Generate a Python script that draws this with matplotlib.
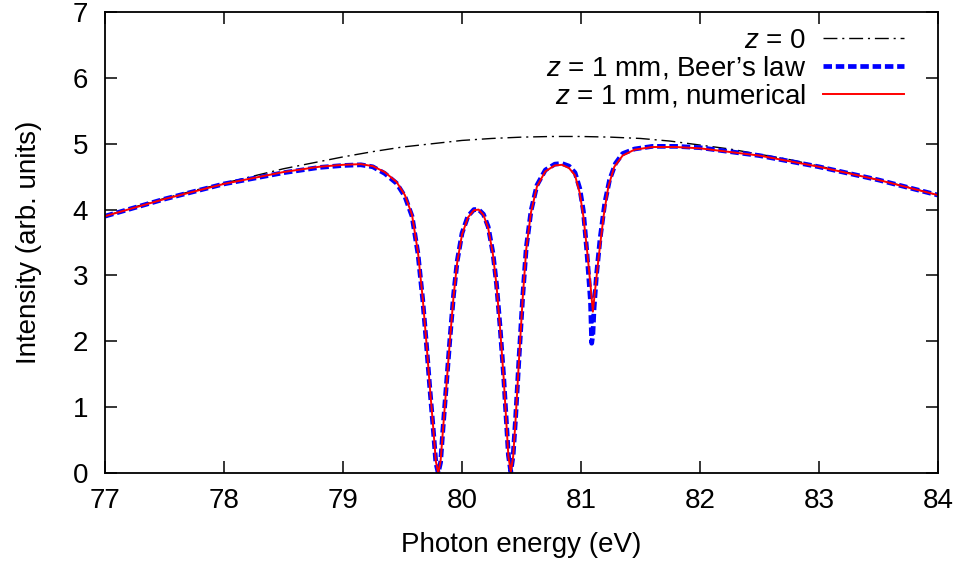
import matplotlib.pyplot as plt

plt.rcParams["font.family"] = ["Liberation Sans", "DejaVu Sans"]
plt.rcParams["mathtext.fontset"] = "custom"
plt.rcParams["mathtext.rm"] = "Liberation Sans"
plt.rcParams["mathtext.it"] = "Liberation Sans:italic"

# incident spectrum, z = 0
e0 = [77.00, 77.25, 77.50, 77.75, 78.00, 78.25, 78.50, 78.75, 79.00, 79.25,
      79.50, 79.75, 80.00, 80.25, 80.50, 80.75, 81.00, 81.25, 81.50, 81.75,
      82.00, 82.25, 82.50, 82.75, 83.00, 83.25, 83.50, 83.75, 84.00]
i0 = [3.90, 4.04, 4.17, 4.29, 4.40, 4.51, 4.62, 4.71, 4.80, 4.88,
      4.95, 5.00, 5.05, 5.08, 5.10, 5.11, 5.11, 5.10, 5.08, 5.04,
      4.98, 4.92, 4.84, 4.76, 4.66, 4.56, 4.45, 4.34, 4.22]

# z = 1 mm, numerical
e_num = [77.0, 77.5, 78.0, 78.5, 78.8, 79.0, 79.15, 79.25, 79.35, 79.45,
         79.52, 79.58, 79.63, 79.67, 79.70, 79.73, 79.76, 79.78, 79.80, 79.82,
         79.84, 79.87, 79.90, 79.93, 79.96, 80.00, 80.05, 80.10, 80.14, 80.18,
         80.22, 80.26, 80.29, 80.32, 80.35, 80.37, 80.39, 80.41, 80.43, 80.45,
         80.48, 80.51, 80.54, 80.58, 80.63, 80.70, 80.78, 80.84, 80.90, 80.95,
         80.99, 81.02, 81.05, 81.08, 81.10, 81.12, 81.15, 81.19, 81.23, 81.28,
         81.35, 81.45, 81.60, 81.80, 82.00, 82.50, 83.00, 83.50, 84.00]
i_num = [3.90, 4.16, 4.39, 4.57, 4.65, 4.68, 4.69, 4.66, 4.57, 4.42,
         4.22, 3.92, 3.35, 2.65, 2.00, 1.30, 0.65, 0.18, 0.00, 0.18,
         0.65, 1.35, 2.05, 2.70, 3.20, 3.62, 3.88, 3.99, 4.00, 3.92,
         3.72, 3.32, 2.85, 2.20, 1.45, 0.85, 0.25, 0.02, 0.25, 0.80,
         1.75, 2.65, 3.40, 3.96, 4.35, 4.58, 4.67, 4.68, 4.63, 4.52,
         4.25, 3.90, 3.40, 2.85, 2.45, 2.80, 3.30, 3.90, 4.35, 4.65,
         4.82, 4.91, 4.95, 4.95, 4.93, 4.82, 4.65, 4.45, 4.22]

# z = 1 mm, Beer's law
e_beer = [77.0, 77.5, 78.0, 78.5, 78.8, 79.0, 79.15, 79.25, 79.35, 79.45,
          79.52, 79.58, 79.63, 79.67, 79.70, 79.73, 79.76, 79.78, 79.80, 79.82,
          79.84, 79.87, 79.90, 79.93, 79.96, 80.00, 80.05, 80.10, 80.14, 80.18,
          80.22, 80.26, 80.29, 80.32, 80.35, 80.37, 80.39, 80.41, 80.43, 80.45,
          80.48, 80.51, 80.54, 80.58, 80.63, 80.70, 80.78, 80.84, 80.90, 80.95,
          80.99, 81.02, 81.05, 81.08, 81.09, 81.10, 81.11, 81.13, 81.16, 81.20,
          81.24, 81.29, 81.35, 81.45, 81.60, 81.80, 82.00, 82.50, 83.00, 83.50,
          84.00]
i_beer = [3.90, 4.16, 4.39, 4.56, 4.64, 4.67, 4.68, 4.65, 4.55, 4.40,
          4.20, 3.90, 3.33, 2.63, 1.98, 1.28, 0.63, 0.16, 0.00, 0.16,
          0.67, 1.37, 2.07, 2.72, 3.22, 3.64, 3.90, 4.00, 4.00, 3.93,
          3.74, 3.34, 2.87, 2.22, 1.47, 0.87, 0.27, 0.02, 0.27, 0.82,
          1.77, 2.67, 3.42, 3.98, 4.37, 4.60, 4.69, 4.70, 4.66, 4.56,
          4.32, 3.98, 3.35, 2.60, 1.97, 2.10, 2.50, 3.00, 3.55, 4.10,
          4.45, 4.70, 4.85, 4.92, 4.96, 4.96, 4.94, 4.82, 4.65, 4.45,
          4.22]

fig = plt.figure(figsize=(9.61, 5.67), dpi=100)
ax = fig.add_axes([0.1093, 0.1658, 0.976 - 0.1093, 0.9788 - 0.1658])

ax.plot(e0, i0, color="black", lw=1.0, dashes=(10, 3.5, 1.5, 3.5),
        label="$z$ = 0")
ax.plot(e_beer, i_beer, color="#0000ff", lw=3.4, dashes=(1.8, 0.8),
        label="$z$ = 1 mm, Beer\u2019s law")
ax.plot(e_num, i_num, color="#ff0000", lw=1.4,
        label="$z$ = 1 mm, numerical")

ax.set_xlim(77, 84)
ax.set_ylim(0, 7)
ax.set_xticks(range(77, 85))
ax.set_yticks(range(0, 8))
ax.tick_params(direction="in", length=8.5, width=1.1, labelsize=20,
               top=True, right=True)
ax.tick_params(axis="x", pad=11)
ax.tick_params(axis="y", pad=12)
for sp in ax.spines.values():
    sp.set_linewidth(1.3)

ax.set_xlabel("Photon energy (eV)", fontsize=20, labelpad=13)
ax.set_ylabel("Intensity (arb. units)", fontsize=20, labelpad=22)

ax.legend(loc="upper right", frameon=False, fontsize=20, markerfirst=False,
          handlelength=2.9, handletextpad=0.6, labelspacing=0.04,
          borderaxespad=0.0, bbox_to_anchor=(0.972, 0.99))

fig.savefig("out.png", dpi=100)
